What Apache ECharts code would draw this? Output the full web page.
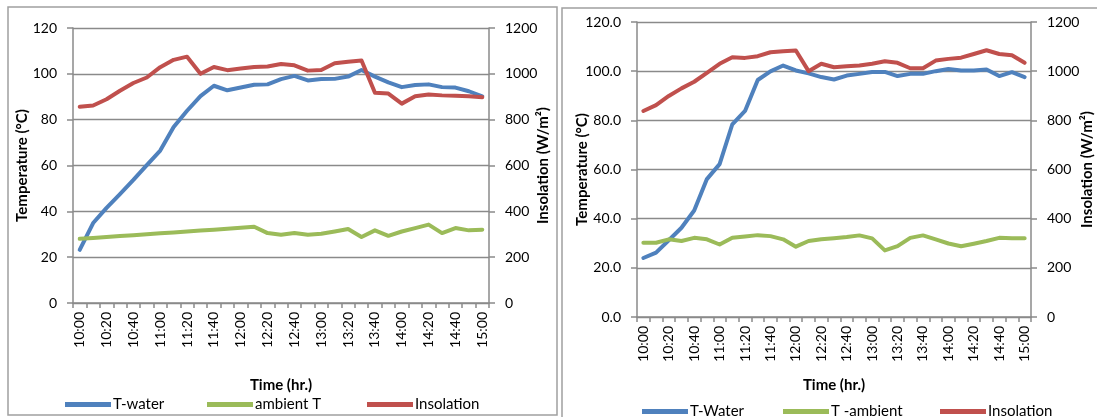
<!DOCTYPE html>
<html>
<head>
<meta charset="utf-8">
<script src="https://cdn.jsdelivr.net/npm/echarts@6/dist/echarts.min.js"></script>
<style>
  html, body { margin: 0; padding: 0; background: #fff; }
  #chart { width: 1097px; height: 417px; }
</style>
</head>
<body>
<div id="chart"></div>
<script>
// Sampling times, every 10 minutes from 10:00 to 15:00
const times = ['10:00','10:10','10:20','10:30','10:40','10:50','11:00','11:10','11:20','11:30',
  '11:40','11:50','12:00','12:10','12:20','12:30','12:40','12:50','13:00','13:10',
  '13:20','13:30','13:40','13:50','14:00','14:10','14:20','14:30','14:40','14:50','15:00'];

// Test day A (left panel)
const waterA = [23.2, 34.9, 41.5, 47.5, 53.7, 60.2, 66.5, 76.8, 83.9, 90.3,
  94.8, 92.8, 94.0, 95.2, 95.4, 97.7, 99.1, 97.1, 97.7, 97.8,
  98.8, 101.7, 98.8, 96.3, 94.2, 95.1, 95.4, 94.2, 94.0, 92.4, 90.2];
const ambientA = [28.0, 28.4, 28.8, 29.2, 29.6, 30.0, 30.4, 30.8, 31.2, 31.6,
  32.0, 32.4, 32.8, 33.3, 30.5, 29.8, 30.5, 29.8, 30.2, 31.2,
  32.3, 28.8, 31.7, 29.3, 31.2, 32.7, 34.2, 30.5, 32.7, 31.7, 32.0];
const insolationA = [856, 862, 889, 926, 960, 984, 1029, 1061, 1075, 1000,
  1030, 1016, 1023, 1030, 1032, 1043, 1037, 1014, 1017, 1046,
  1053, 1058, 917, 914, 870, 902, 910, 906, 904, 902, 898];

// Test day B (right panel)
const waterB = [24.0, 26.2, 31.2, 36.3, 43.3, 56.1, 62.2, 78.4, 83.8, 96.4,
  99.9, 102.3, 100.3, 99.1, 97.6, 96.6, 98.2, 98.9, 99.7, 99.7,
  98.0, 98.9, 98.9, 100.0, 100.9, 100.3, 100.3, 100.7, 98.0, 99.6, 97.6];
const ambientB = [30.2, 30.2, 31.6, 30.9, 32.2, 31.6, 29.5, 32.2, 32.7, 33.3,
  32.9, 31.6, 28.6, 30.9, 31.6, 32.0, 32.5, 33.2, 32.0, 27.1,
  28.8, 32.2, 33.2, 31.6, 29.9, 28.8, 29.8, 30.9, 32.2, 32.0, 32.0];
const insolationB = [838, 862, 899, 930, 957, 993, 1030, 1057, 1054, 1061,
  1077, 1081, 1084, 1000, 1030, 1016, 1020, 1023, 1030, 1040,
  1034, 1012, 1012, 1043, 1050, 1055, 1070, 1085, 1070, 1065, 1034];

const tempTicks = { min: 0, max: 120, interval: 20 };
const insolTicks = { min: 0, max: 1200, interval: 200 };

const FONT = 'Lato, "Liberation Sans", sans-serif';
const AXIS_GREY = '#8a8a8a';
const BLUE = '#4f81bd', GREEN = '#9bbb59', RED = '#c0504d';

const chart = echarts.init(document.getElementById('chart'), null, { renderer: 'canvas' });

function xAxis(gridIndex, nameGap) {
  return {
    type: 'category', gridIndex, data: times, boundaryGap: true,
    name: 'Time (hr.)', nameLocation: 'middle', nameGap, nameMoveOverlap: false,
    nameTextStyle: { fontFamily: FONT, fontSize: 15, fontWeight: 'bold', color: '#000' },
    axisLine: { lineStyle: { color: AXIS_GREY, width: 1.5 } },
    axisTick: { show: true, interval: 0, length: 5, lineStyle: { color: AXIS_GREY, width: 1.5 } },
    axisLabel: { interval: 1, rotate: 90, fontFamily: FONT, fontSize: 14, color: '#000', margin: 9 },
    splitLine: { show: false }
  };
}

function yAxis(gridIndex, position, ticks, name, nameGap, decimals, showSplit) {
  return Object.assign({
    type: 'value', gridIndex, position,
    name, nameLocation: 'middle', nameGap, nameRotate: 90, nameMoveOverlap: false,
    nameTextStyle: { fontFamily: FONT, fontSize: 15, fontWeight: 'bold', color: '#000' },
    axisLine: { show: true, lineStyle: { color: AXIS_GREY, width: 1.5 } },
    axisTick: { show: true, length: 6, lineStyle: { color: AXIS_GREY, width: 1.5 } },
    axisLabel: { fontFamily: FONT, fontSize: 14, color: '#000', margin: 16,
      formatter: v => v.toFixed(decimals) },
    splitLine: { show: showSplit, lineStyle: { color: AXIS_GREY, width: 1.3 } }
  }, ticks);
}

function line(name, data, color, xi, yi) {
  return {
    type: 'line', name, data, xAxisIndex: xi, yAxisIndex: yi,
    symbol: 'none', smooth: false, silent: true,
    lineStyle: { color, width: 4, join: 'round', cap: 'round' },
    itemStyle: { color }
  };
}

function legendItem(name, left, top) {
  return {
    data: [name], left, top, icon: 'rect', itemWidth: 46, itemHeight: 5, itemGap: 0,
    textStyle: { fontFamily: FONT, fontSize: 15, color: '#000', padding: [0, 0, 0, -3] },
    selectedMode: false
  };
}

chart.setOption({
  backgroundColor: '#fff',
  animation: false,
  grid: [
    { left: 73, top: 28, width: 416, height: 275 },
    { left: 637, top: 22, width: 394, height: 295 }
  ],
  xAxis: [xAxis(0, 75), xAxis(1, 61)],
  yAxis: [
    yAxis(0, 'left', tempTicks, 'Temperature (°C)', 43, 0, true),
    yAxis(0, 'right', insolTicks, 'Insolation (W/m²)', 47, 0, false),
    yAxis(1, 'left', tempTicks, 'Temperature (°C)', 47, 1, true),
    yAxis(1, 'right', insolTicks, 'Insolation (W/m²)', 49, 0, false)
  ],
  legend: [
    legendItem('T-water', 60, 392),
    legendItem('ambient T', 202, 392),
    legendItem('Insolation', 362, 392),
    legendItem('T-Water', 637, 399),
    legendItem('T -ambient', 778, 399),
    legendItem('Insolation ', 935, 399)
  ],
  series: [
    line('T-water', waterA, BLUE, 0, 0),
    line('ambient T', ambientA, GREEN, 0, 0),
    line('Insolation', insolationA, RED, 0, 1),
    line('T-Water', waterB, BLUE, 1, 2),
    line('T -ambient', ambientB, GREEN, 1, 2),
    line('Insolation ', insolationB, RED, 1, 3)
  ],
  graphic: [
    { type: 'rect', shape: { x: 8, y: 7, width: 549, height: 408 },
      style: { fill: 'none', stroke: '#a0a0a0', lineWidth: 1.5 }, silent: true },
    { type: 'rect', shape: { x: 562, y: 8, width: 545, height: 420 },
      style: { fill: 'none', stroke: '#a0a0a0', lineWidth: 1.5 }, silent: true }
  ]
});
</script>
</body>
</html>
